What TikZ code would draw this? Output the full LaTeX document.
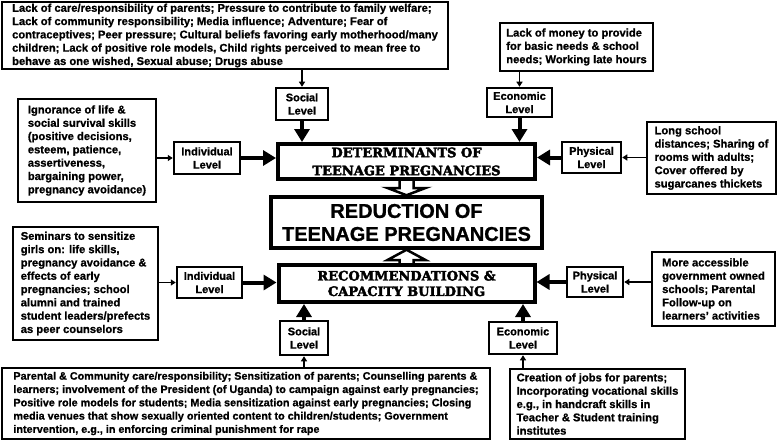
\documentclass[tikz,border=0pt]{standalone}
\usepackage{fontspec}
\setmainfont{Liberation Sans}[BoldFeatures={FakeBold=1}]
\newfontfamily\titlefont{DejaVu Serif}[BoldFeatures={FakeBold=3}]
\usetikzlibrary{arrows.meta,calc}
\begin{document}
\begin{tikzpicture}[x=1pt,y=-1pt,
 txt/.style={draw,line width=1.3pt,rectangle,inner xsep=5pt,inner ysep=1pt,align=left,
   font=\fontsize{11.2}{13.3}\selectfont\bfseries},
 lvl/.style={draw,line width=2.5pt,rectangle,inner sep=0pt,align=center,
   font=\fontsize{11}{13.3}\selectfont\bfseries},
 ttl/.style={draw,line width=4pt,rectangle,inner sep=0pt,align=center,
   font=\titlefont\fontsize{13}{18}\selectfont\bfseries},
 big/.style={-{Triangle[length=13pt,width=15pt]},line width=4pt},
 thinarr/.style={-{Triangle[length=5pt,width=6pt]},line width=1.2pt},
 hollow/.style={line width=2.5pt,line join=miter}]
\useasboundingbox (0,0) rectangle (778,441);

% top text boxes
\node[txt,minimum width=446,minimum height=67] (topsoc) at (225,35.5)
 {Lack of care/responsibility of parents; Pressure to contribute to family welfare;\\
  Lack of community responsibility; Media influence; Adventure; Fear of\\
  contraceptives; Peer pressure; Cultural beliefs favoring early motherhood/many\\
  children; Lack of positive role models, Child rights perceived to mean free to\\
  behave as one wished, Sexual abuse; Drugs abuse};
\node[txt,minimum width=153,minimum height=48] (topeco) at (576.5,47)
 {Lack of money to provide\\ for basic needs \& school\\ needs; Working late hours};

% upper level boxes
\node[lvl,minimum width=52,minimum height=32] (socA) at (302,104) {Social\\Level};
\node[lvl,minimum width=65,minimum height=29] (ecoA) at (519.5,102.5) {Economic\\Level};
\node[lvl,minimum width=66,minimum height=32] (indA) at (207,158) {Individual\\Level};
\node[lvl,minimum width=59,minimum height=31] (phyA) at (591.5,157.5) {Physical\\Level};

\node[txt,minimum width=138,minimum height=103] (indtA) at (87,150.5)
 {Ignorance of life \&\\ social survival skills\\ (positive decisions,\\ esteem, patience,\\ assertiveness,\\ bargaining power,\\ pregnancy avoidance)};
\node[txt,minimum width=129,minimum height=72] (phytA) at (711.5,158)
 {Long school\\ distances; Sharing of\\ rooms with adults;\\ Cover offered by\\ sugarcanes thickets};

% central boxes
\node[ttl,minimum width=257,minimum height=35] (det) at (406.5,161.5)
 {DETERMINANTS OF\\TEENAGE PREGNANCIES};
\node[draw,line width=3.5pt,rectangle,inner sep=0pt,align=center,minimum width=271,minimum height=51,
  font=\fontsize{20}{23}\selectfont\bfseries] (red) at (406.5,222.5)
 {REDUCTION OF\\TEENAGE PREGNANCIES};
\node[ttl,minimum width=256,minimum height=37,font=\titlefont\fontsize{13}{15.5}\selectfont\bfseries] (rec) at (406.5,283.5)
 {RECOMMENDATIONS \&\\CAPACITY BUILDING};

% lower level boxes
\node[lvl,minimum width=65,minimum height=31] (indB) at (209.5,282.5) {Individual\\Level};
\node[lvl,minimum width=56,minimum height=30] (phyB) at (595,282) {Physical\\Level};
\node[lvl,minimum width=48,minimum height=34] (socB) at (304,338) {Social\\Level};
\node[lvl,minimum width=68,minimum height=32] (ecoB) at (523,338) {Economic\\Level};

\node[txt,minimum width=145,minimum height=113] (indtB) at (85.5,283.5)
 {Seminars to sensitize\\ girls on: life skills,\\ pregnancy avoidance \&\\ effects of early\\ pregnancies; school\\ alumni and trained\\ student leaders/prefects\\ as peer counselors};
\node[txt,minimum width=123,minimum height=74] (phytB) at (713.5,289)
 {More accessible\\ government owned\\ schools; Parental\\ Follow-up on\\ learners’ activities};
\node[txt,minimum width=488,minimum height=71,font=\fontsize{10.8}{13.3}\selectfont\bfseries] (soctB) at (246,403.5)
 {Parental \& Community care/responsibility; Sensitization of parents; Counselling parents \&\\
  learners; involvement of the President (of Uganda) to campaign against early pregnancies;\\
  Positive role models for students; Media sensitization against early pregnancies; Closing\\
  media venues that show sexually oriented content to children/students; Government\\
  intervention, e.g., in enforcing criminal punishment for rape};
\node[txt,minimum width=175,minimum height=70] (ecotB) at (597.5,404)
 {Creation of jobs for parents;\\ Incorporating vocational skills\\ e.g., in handcraft skills in\\ Teacher \& Student training\\ institutes};

% thin arrows
\draw[thinarr] (socA.north |- topsoc.south) -- (socA.north);
\draw[thinarr] (ecoA.north |- topeco.south) -- (ecoA.north);
\draw[thinarr] (indA.west -| indtA.east) -- (indA.west);
\draw[thinarr] (phyA.east -| phytA.west) -- (phyA.east);
\draw[thinarr] (indB.west -| indtB.east) -- (indB.west);
\draw[thinarr] (phyB.east -| phytB.west) -- (phyB.east);
\draw[thinarr] (socB.south |- soctB.north) -- (socB.south);
\draw[thinarr] (ecoB.south |- ecotB.north) -- (ecoB.south);

% thick arrows
\draw[big] (socA.south) -- (socA.south |- det.north);
\draw[big] (ecoA.south) -- (ecoA.south |- det.north);
\draw[big] (indA.east) -- (indA.east -| det.west);
\draw[big] (phyA.west) -- (phyA.west -| det.east);
\draw[big] (indB.east) -- (indB.east -| rec.west);
\draw[big] (phyB.west) -- (phyB.west -| rec.east);
\draw[big] (socB.north) -- (socB.north |- rec.south);
\draw[big] (ecoB.north) -- (ecoB.north |- rec.south);

% hollow block arrows
\draw[hollow] ($(det.south)+(-7,0)$) -- ($(det.south)+(-7,7)$) -- ($(det.south)+(-19,7)$)
  -- (red.north) -- ($(det.south)+(19,7)$) -- ($(det.south)+(7,7)$) -- ($(det.south)+(7,0)$);
\draw[hollow] ($(rec.north)+(-7,0)$) -- ($(rec.north)+(-7,-3)$) -- ($(rec.north)+(-19,-3)$)
  -- (red.south) -- ($(rec.north)+(19,-3)$) -- ($(rec.north)+(7,-3)$) -- ($(rec.north)+(7,0)$);
\end{tikzpicture}
\end{document}
